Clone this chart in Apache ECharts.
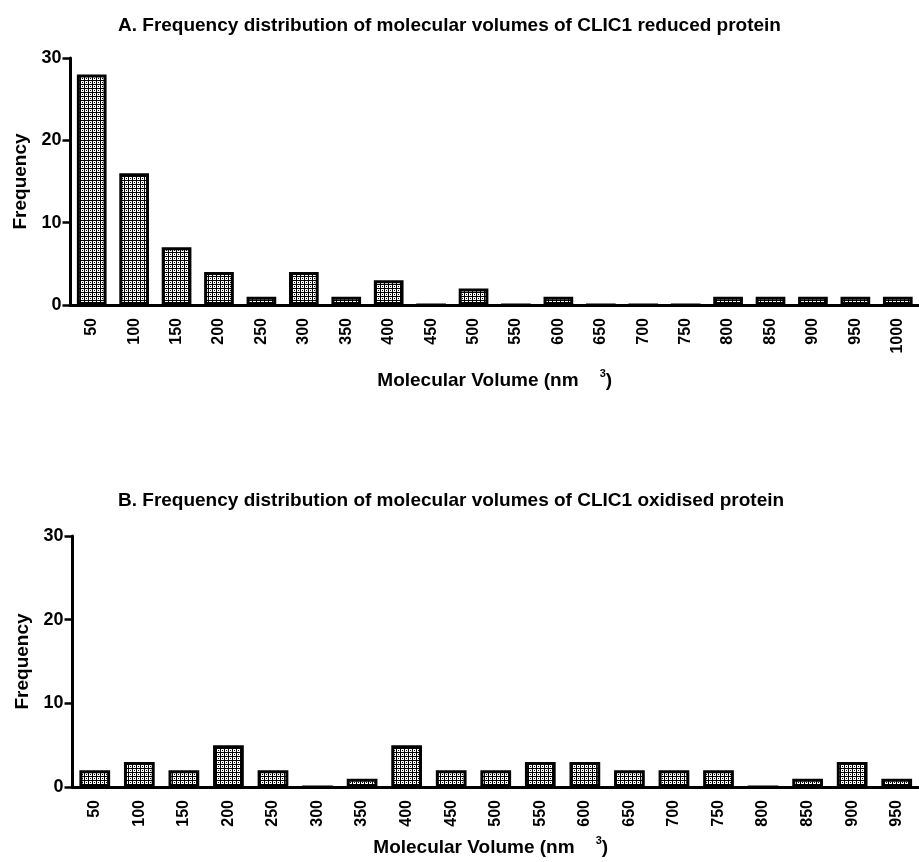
<!DOCTYPE html>
<html><head><meta charset="utf-8">
<script src="https://cdn.jsdelivr.net/npm/echarts@6/dist/echarts.min.js"></script>
<style>html,body{margin:0;padding:0;background:#fff}#c{width:919px;height:862px}</style>
</head><body><div id="c"></div>
<script>
const categoriesA = ['50','100','150','200','250','300','350','400','450','500','550','600','650','700','750','800','850','900','950','1000'];
const valuesA = [28,16,7,4,1,4,1,3,0,2,0,1,0,0,0,1,1,1,1,1];
const categoriesB = ['50','100','150','200','250','300','350','400','450','500','550','600','650','700','750','800','850','900','950'];
const valuesB = [2,3,2,5,2,0,1,5,2,2,3,3,2,2,2,0,1,3,1];
const titleA = 'A. Frequency distribution of molecular volumes of CLIC1 reduced protein';
const titleB = 'B. Frequency distribution of molecular volumes of CLIC1 oxidised protein';
const xName = 'Molecular Volume (nm    {s|3})';
const yName = 'Frequency';

const tile = document.createElement('canvas');
tile.width = 4; tile.height = 4;
const tc = tile.getContext('2d');
tc.fillStyle = '#fff'; tc.fillRect(0,0,4,4);
tc.fillStyle = '#000';
tc.fillRect(0,0,4,1); tc.fillRect(0,0,1,4); tc.fillRect(2,2,1,1);

const font = 'Liberation Sans, Arial, sans-serif';
const chart = echarts.init(document.getElementById('c'));

function xAx(idx, cats, gap, pad){
  return {
    type:'category', gridIndex: idx, data: cats,
    axisLine:{lineStyle:{color:'#000', width:3}},
    axisTick:{alignWithLabel:true, length:8, lineStyle:{color:'#000', width:2.5}},
    axisLabel:{rotate:90, color:'#000', fontWeight:'bold', fontSize:16, fontFamily:font, margin:13, interval:0},
    name:xName, nameLocation:'middle', nameGap:gap,
    nameTextStyle:{color:'#000', fontWeight:'bold', fontSize:19, fontFamily:font, padding:pad,
      rich:{s:{fontSize:11, fontWeight:'bold', fontFamily:font, color:'#000', padding:[0,0,14,0]}}}
  };
}
function yAx(idx){
  return {
    type:'value', gridIndex: idx, min:0, max:30, interval:10,
    splitLine:{show:false},
    axisLine:{show:true, lineStyle:{color:'#000', width:3}},
    axisTick:{show:true, length:8, lineStyle:{color:'#000', width:2.5}},
    axisLabel:{color:'#000', fontWeight:'bold', fontSize:18, fontFamily:font, margin:9},
    name:yName, nameLocation:'middle', nameGap:39, nameRotate:90,
    nameTextStyle:{color:'#000', fontWeight:'bold', fontSize:19, fontFamily:font}
  };
}
const barStyle = {color:{image:tile, repeat:'repeat'}, borderColor:'#000', borderWidth:3};
const tStyle = {fontSize:19, fontWeight:'bold', fontFamily:font, color:'#000'};

chart.setOption({
  animation:false,
  title:[
    {text:titleA, left:113, top:11, textStyle:tStyle},
    {text:titleB, left:113, top:486, textStyle:tStyle}
  ],
  grid:[
    {left:70.5, top:58, width:850, height:247},
    {left:72.5, top:536, width:855, height:251}
  ],
  xAxis:[xAx(0, categoriesA, 63, [0,0,0,0]), xAx(1, categoriesB, 48, [0,10,0,0])],
  yAxis:[yAx(0), yAx(1)],
  series:[
    {type:'bar', xAxisIndex:0, yAxisIndex:0, data:valuesA, barWidth:'70%', itemStyle:barStyle},
    {type:'bar', xAxisIndex:1, yAxisIndex:1, data:valuesB, barWidth:'69%', itemStyle:barStyle}
  ]
});
</script></body></html>
